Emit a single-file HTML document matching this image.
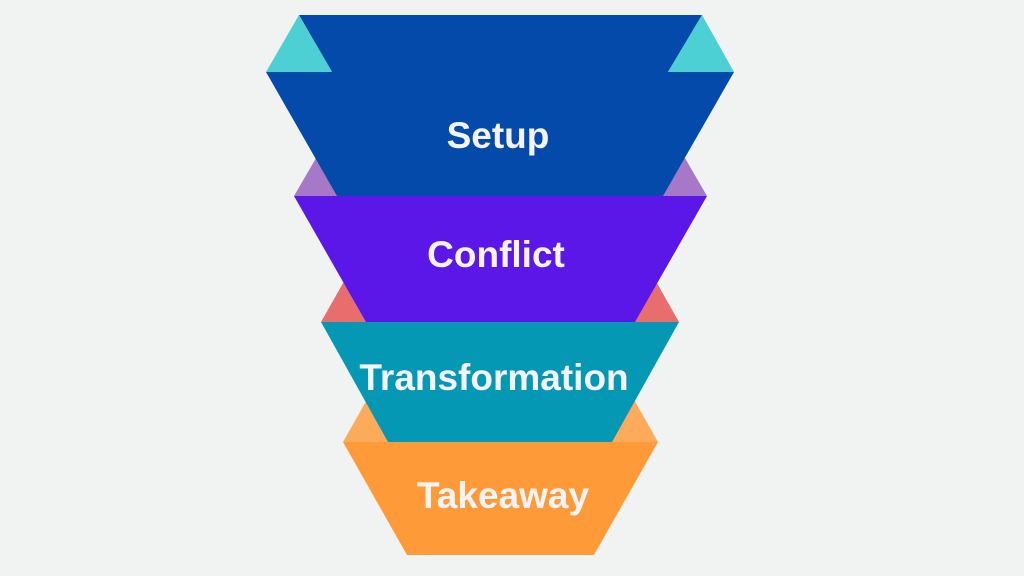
<!DOCTYPE html>
<html><head><style>
html,body{margin:0;padding:0;background:#f1f2f2;}
svg{display:block}
text{font-family:"Liberation Sans",sans-serif;font-weight:bold;fill:#f4f4f8;text-anchor:middle}
</style></head><body>
<svg width="1024" height="576" viewBox="0 0 1024 576">
<rect width="1024" height="576" fill="#f1f2f2"/>
<polygon points="343,442 412,442 377,382" fill="#fbab5a"/>
<polygon points="658,442 589,442 624,382" fill="#fbab5a"/>
<polygon points="343,442 658,442 594,555 407,555" fill="#fe9b38"/>
<text x="503" y="508" font-size="37" fill="#f6eee6">Takeaway</text>
<polygon points="321,322 390,322 355,262" fill="#e86e6e"/>
<polygon points="679,322 610,322 645,262" fill="#e86e6e"/>
<polygon points="321,322 679,322 612,442 388,442" fill="#0598b4"/>
<text x="494" y="390" font-size="37">Transformation</text>
<polygon points="294,196 366,196 330,134" fill="#a878c8"/>
<polygon points="707,196 635,196 671,134" fill="#a878c8"/>
<polygon points="294,196 707,196 635,322 366,322" fill="#5a17e8"/>
<text x="496" y="267" font-size="37">Conflict</text>
<polygon points="299,15 702,15 668,72 734,72 663,196 337,196 266,72 332,72" fill="#044aaa"/>
<polygon points="299,15 266,72 332,72" fill="#4dd0d4"/>
<polygon points="702,15 668,72 734,72" fill="#4dd0d4"/>
<text x="498" y="148" font-size="37">Setup</text>
</svg>
</body></html>
